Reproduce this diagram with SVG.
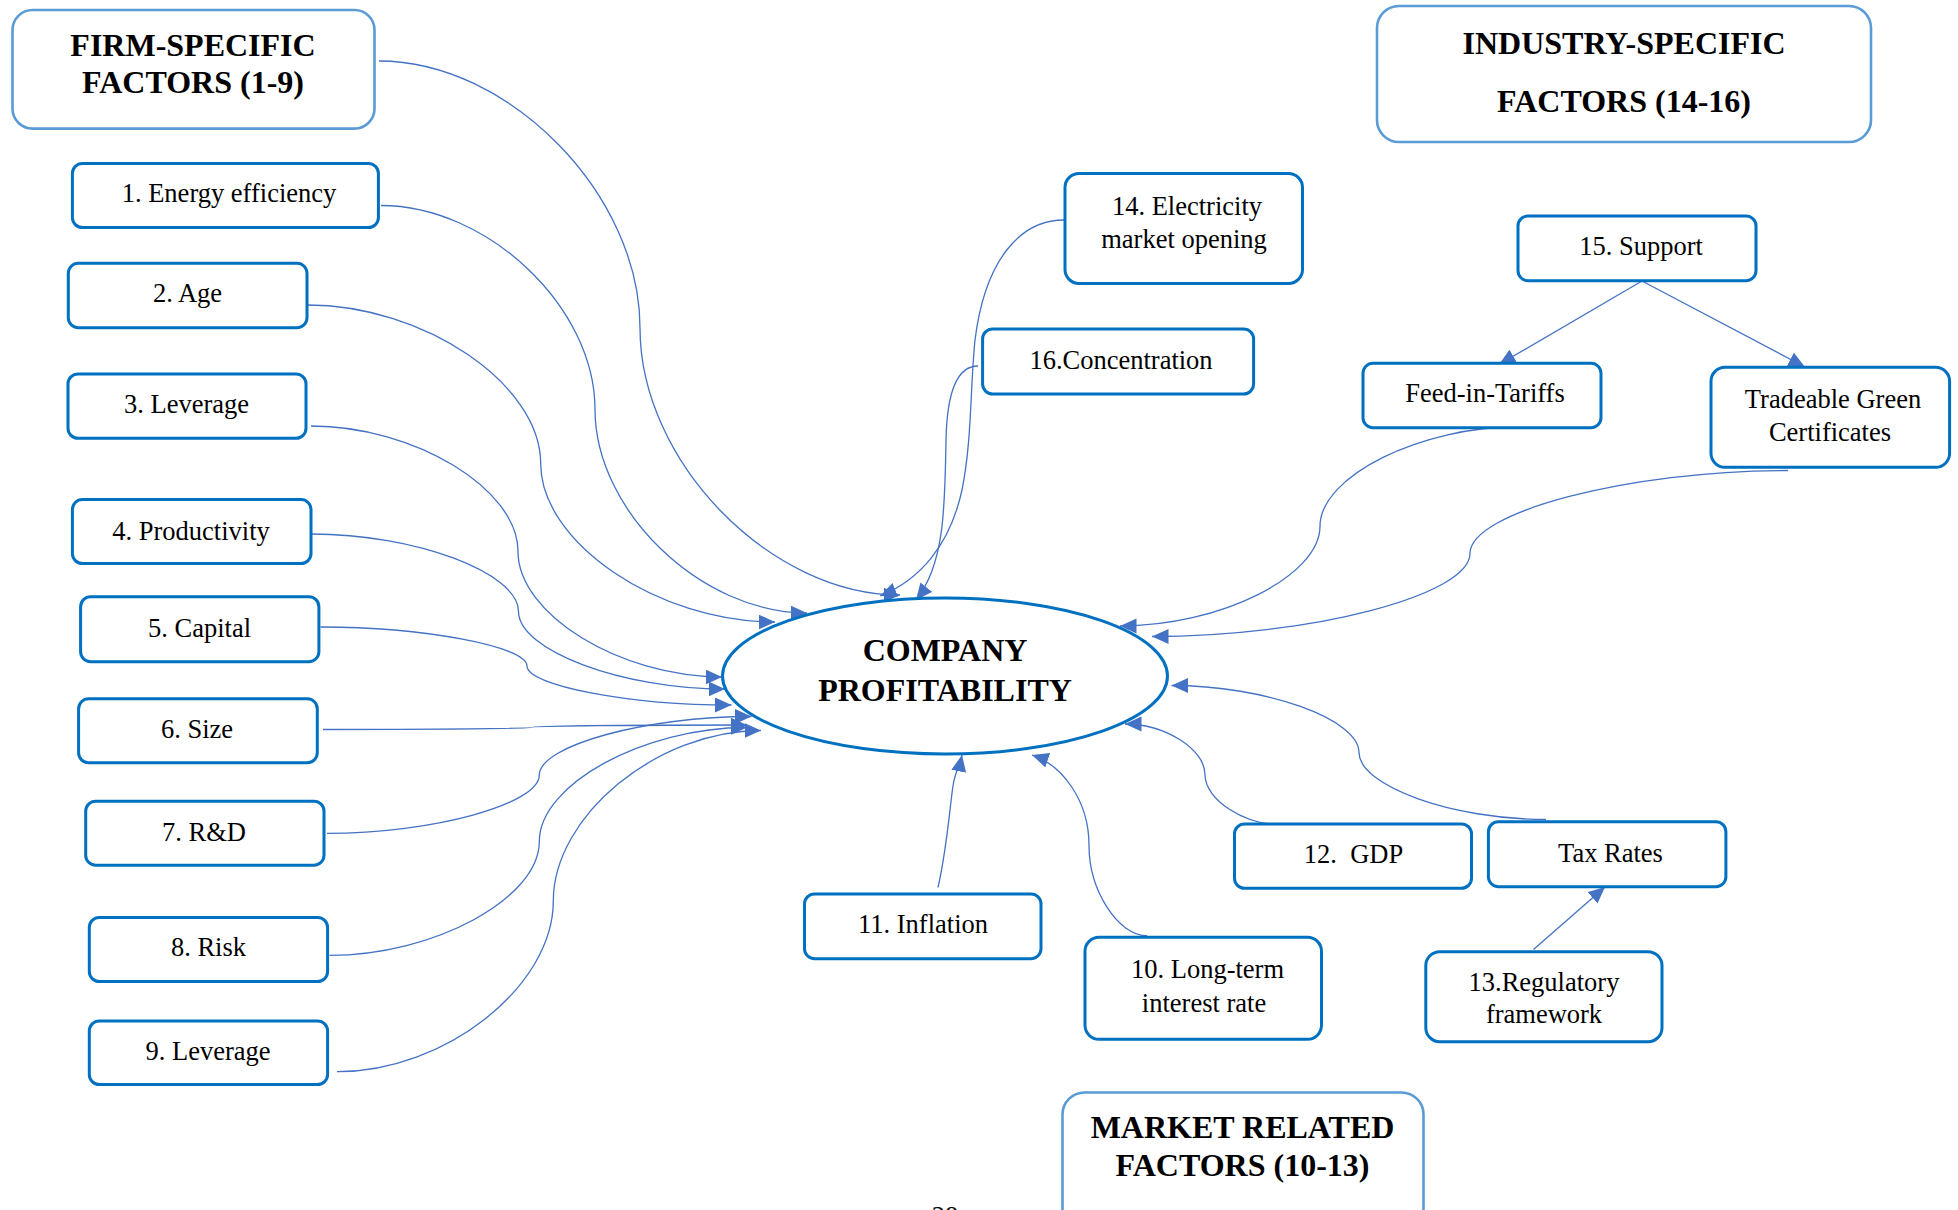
<svg xmlns="http://www.w3.org/2000/svg" width="1958" height="1210" viewBox="0 0 1958 1210">
<style>
  .cat { fill: #ffffff; stroke: #5b9bd5; stroke-width: 2.6; }
  .box { fill: #ffffff; stroke: #0070c0; stroke-width: 3; }
  .ell { fill: #ffffff; stroke: #0070c0; stroke-width: 3; }
  .title { font-family: "Liberation Serif", "Times New Roman", serif; font-weight: bold; font-size: 32px; fill: #000; text-anchor: middle; }
  .lbl { font-family: "Liberation Serif", "Times New Roman", serif; font-size: 26.5px; fill: #000; text-anchor: middle; }
  .con { fill: none; stroke: #4472c4; stroke-width: 1.3; marker-end: url(#arr); }
</style>
<defs>
  <marker id="arr" markerUnits="userSpaceOnUse" markerWidth="18" markerHeight="16" refX="16.5" refY="7.5" orient="auto">
    <path d="M0,0 L16.5,7.5 L0,15 z" fill="#4472c4"/>
  </marker>
</defs>
<rect width="1958" height="1210" fill="#ffffff"/>

<g id="connectors">
  <path class="con" d="M379,61 C509.5,61 640,194.5 640,328 C640,461.5 770,595 900,595"/>
  <path class="con" d="M381,205.5 C488,205.5 595,307.4 595,409.25 C595,511.1 701,613 807,613"/>
  <path class="con" d="M307.5,305 C424.1,305 540.7,384.25 540.7,463.5 C540.7,542.75 657.85,622 775,622"/>
  <path class="con" d="M311,426 C414.5,426 518,488.75 518,551.5 C518,614.25 620,677 722,677"/>
  <path class="con" d="M311.5,534 C415,534 518.5,572.75 518.5,611.5 C518.5,650.25 621.75,689 725,689"/>
  <path class="con" d="M320.5,627 C423.75,627 527,646.5 527,666 C527,685.5 629.25,705 731.5,705"/>
  <path class="con" d="M323,729.5 C428,729.5 533,728.4 533,727.25 C533,726.1 640,725 747,725"/>
  <path class="con" d="M327,833.3 C433.15,833.3 539.3,804.1 539.3,774.9 C539.3,745.7 645.4,716.5 751.5,716.5"/>
  <path class="con" d="M329.5,955.3 C434.4,955.3 539.3,898.35 539.3,841.4 C539.3,784.45 643.15,727.5 747,727.5"/>
  <path class="con" d="M337,1071.7 C445.15,1071.7 553.3,986.4 553.3,901.1 C553.3,815.8 657.15,730.5 761,730.5"/>
  <path class="con" d="M1064,220 C1020,220 985,260 975,340 C970,390 972,440 962,490 C950,545 920,580 880,596"/>
  <path class="con" d="M978,366 C958,366 947,390 946,440 C945,510 944,565 916,600"/>
  <path class="con" d="M1520,426.5 C1420,426.5 1320,476.4 1320,526.25 C1320,576.1 1220,626 1120,626"/>
  <path class="con" d="M1788,470.5 C1629,470.5 1470,512 1470,553.5 C1470,595 1311,636.5 1152,636.5"/>
  <path class="con" d="M1546,819.5 C1452.5,819.5 1359,786 1359,752.5 C1359,719 1265.25,685.5 1171.5,685.5"/>
  <path class="con" d="M1283,825 C1244,825 1205,799.75 1205,774.5 C1205,749.25 1165,724 1125,724"/>
  <path class="con" d="M1147,935.7 C1118,935.7 1089,890.5 1089,845.35 C1089,800.2 1062,765 1032,755"/>
  <path class="con" d="M938,887.5 C947,848 950,805 953,786 C955,772 960,765 962,755"/>
  <path class="con" d="M1642,281 L1499,364.5"/>
  <path class="con" d="M1642,281 L1805,367"/>
  <path class="con" d="M1533.5,949.5 L1605,887"/>
</g>

<g id="firm-specific">
  <rect class="cat" x="12.5" y="10" width="362" height="118.6" rx="20"/>
  <text class="title" x="193" y="56">FIRM-SPECIFIC</text>
  <text class="title" x="193" y="93">FACTORS (1-9)</text>
</g>
<g id="industry-specific">
  <rect class="cat" x="1377" y="6" width="494" height="136" rx="22"/>
  <text class="title" x="1624" y="54">INDUSTRY-SPECIFIC</text>
  <text class="title" x="1624" y="112">FACTORS (14-16)</text>
</g>
<g id="market-related">
  <rect class="cat" x="1062.5" y="1092.5" width="361" height="150" rx="22"/>
  <text class="title" x="1242.5" y="1138">MARKET RELATED</text>
  <text class="title" x="1242.5" y="1176">FACTORS (10-13)</text>
</g>

<g id="profitability">
  <ellipse class="ell" cx="945" cy="676" rx="222.5" ry="78"/>
  <text class="title" x="945" y="661">COMPANY</text>
  <text class="title" x="945" y="701">PROFITABILITY</text>
</g>

<g id="n1"><rect class="box" x="72.4" y="163.5" width="306" height="64" rx="10"/><text class="lbl" x="229" y="202">1. Energy efficiency</text></g>
<g id="n2"><rect class="box" x="68.3" y="263.3" width="238.7" height="64.4" rx="10"/><text class="lbl" x="187.5" y="302">2. Age</text></g>
<g id="n3"><rect class="box" x="68" y="374" width="238" height="64.3" rx="10"/><text class="lbl" x="186.5" y="413">3. Leverage</text></g>
<g id="n4"><rect class="box" x="72.4" y="499.6" width="238.6" height="64" rx="10"/><text class="lbl" x="191" y="540">4. Productivity</text></g>
<g id="n5"><rect class="box" x="80.6" y="596.7" width="238.3" height="65" rx="10"/><text class="lbl" x="199.5" y="636.5">5. Capital</text></g>
<g id="n6"><rect class="box" x="78.6" y="698.8" width="238.7" height="64" rx="10"/><text class="lbl" x="197" y="738">6. Size</text></g>
<g id="n7"><rect class="box" x="85.7" y="801.2" width="238.3" height="64" rx="10"/><text class="lbl" x="204" y="840.5">7. R&amp;D</text></g>
<g id="n8"><rect class="box" x="89.3" y="917.5" width="238.3" height="64" rx="10"/><text class="lbl" x="208.5" y="956">8. Risk</text></g>
<g id="n9"><rect class="box" x="89.3" y="1021" width="238.3" height="63.5" rx="10"/><text class="lbl" x="208" y="1059.5">9. Leverage</text></g>

<g id="n14"><rect class="box" x="1065" y="173.5" width="237.5" height="110" rx="14"/><text class="lbl" x="1187" y="215">14. Electricity</text><text class="lbl" x="1184" y="248">market opening</text></g>
<g id="n16"><rect class="box" x="982.6" y="329" width="271" height="65" rx="10"/><text class="lbl" x="1121" y="369">16.Concentration</text></g>
<g id="n15"><rect class="box" x="1518" y="216" width="238" height="64.7" rx="10"/><text class="lbl" x="1641" y="255">15. Support</text></g>
<g id="feed-in"><rect class="box" x="1363" y="363.3" width="238" height="64.4" rx="10"/><text class="lbl" x="1485" y="402.3">Feed-in-Tariffs</text></g>
<g id="tgc"><rect class="box" x="1711" y="367.3" width="238.6" height="100" rx="14"/><text class="lbl" x="1833" y="408.3">Tradeable Green</text><text class="lbl" x="1830" y="440.7">Certificates</text></g>

<g id="n12"><rect class="box" x="1234.5" y="824" width="237" height="64.3" rx="10"/><text class="lbl" x="1353.5" y="863.3" xml:space="preserve">12.  GDP</text></g>
<g id="tax"><rect class="box" x="1488.4" y="821.7" width="237.5" height="65" rx="10"/><text class="lbl" x="1610.5" y="861.7">Tax Rates</text></g>
<g id="n11"><rect class="box" x="804.5" y="894" width="236.5" height="64.7" rx="10"/><text class="lbl" x="923" y="933.3">11. Inflation</text></g>
<g id="n10"><rect class="box" x="1085" y="937.3" width="236.5" height="102" rx="14"/><text class="lbl" x="1207.5" y="978.3">10. Long-term</text><text class="lbl" x="1204" y="1011.7">interest rate</text></g>
<g id="n13"><rect class="box" x="1425.8" y="951.7" width="236.2" height="90" rx="14"/><text class="lbl" x="1544" y="990.7">13.Regulatory</text><text class="lbl" x="1544" y="1023.3">framework</text></g>

<text class="lbl" x="945" y="1225">28</text>
</svg>
